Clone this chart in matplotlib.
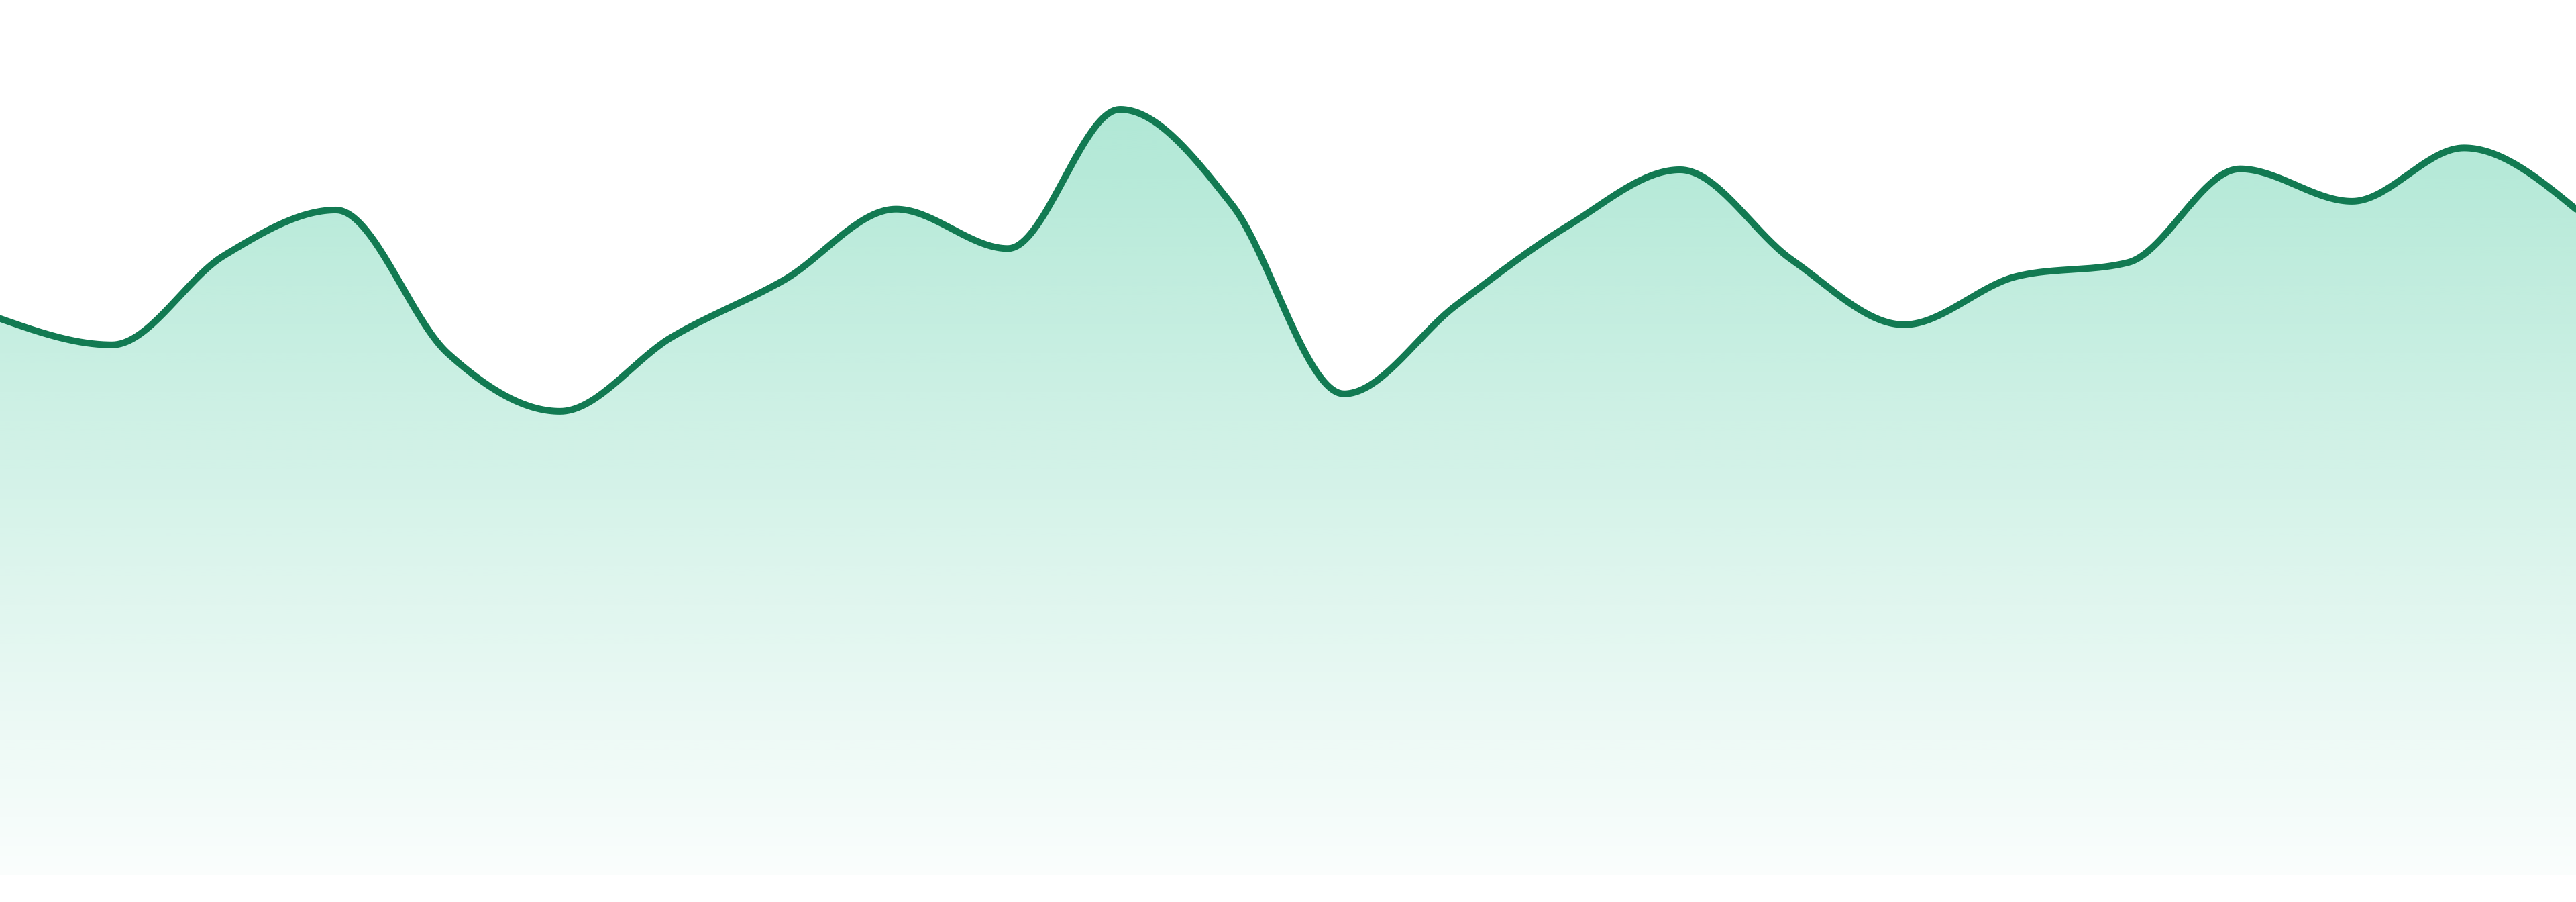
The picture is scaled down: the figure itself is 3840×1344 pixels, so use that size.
import numpy as np
import matplotlib
matplotlib.use("Agg")
import matplotlib.pyplot as plt
from matplotlib.patches import Polygon

# ---- data ----
periods = list(range(24))
values = [63.6, 60.6, 70.8, 76.0, 59.6, 53.0, 61.5, 68.0, 76.1, 71.6, 87.5, 76.6,
          55.0, 65.1, 74.2, 80.6, 70.3, 62.9, 68.4, 70.0, 80.7, 77.0, 83.1, 76.1]

line_color = "#127A52"
fill_rgb = (16 / 255, 185 / 255, 129 / 255)


def monotone_x(x, y, n=40):
    """d3.curveMonotoneX equivalent: returns dense points along the curve."""
    x = np.asarray(x, float)
    y = np.asarray(y, float)
    m = len(x)
    h = np.diff(x)
    s = np.diff(y) / h
    t = np.zeros(m)
    for i in range(1, m - 1):
        s0, s1 = s[i - 1], s[i]
        h0, h1 = h[i - 1], h[i]
        p = (s0 * h1 + s1 * h0) / (h0 + h1)
        t[i] = (np.sign(s0) + np.sign(s1)) * min(abs(s0), abs(s1), 0.5 * abs(p))
    t[0] = (3 * s[0] - t[1]) / 2
    t[-1] = (3 * s[-1] - t[-2]) / 2
    xs, ys = [], []
    u = np.linspace(0, 1, n)
    for i in range(m - 1):
        dx = h[i] / 3
        p0 = np.array([x[i], y[i]])
        p1 = np.array([x[i] + dx, y[i] + dx * t[i]])
        p2 = np.array([x[i + 1] - dx, y[i + 1] - dx * t[i + 1]])
        p3 = np.array([x[i + 1], y[i + 1]])
        uu = u if i == 0 else u[1:]
        b = ((1 - uu) ** 3)[:, None] * p0 + (3 * (1 - uu) ** 2 * uu)[:, None] * p1 \
            + (3 * (1 - uu) * uu ** 2)[:, None] * p2 + (uu ** 3)[:, None] * p3
        xs.append(b[:, 0])
        ys.append(b[:, 1])
    return np.concatenate(xs), np.concatenate(ys)


W, H = 3840, 1344
fig = plt.figure(figsize=(W / 100, H / 100), dpi=100)
fig.patch.set_facecolor("white")
ax = fig.add_axes([0, 40 / H, 1, 1 - 40 / H])
ax.set_xlim(periods[0], periods[-1])
ax.set_ylim(0, 100)
ax.axis("off")

cx, cy = monotone_x(periods, values)

# gradient fill clipped to area under curve
ymax = max(values)
ny = 600
grad_y = np.linspace(0, ymax, ny)
alpha = 0.02 + (0.33 - 0.02) * (grad_y / ymax)
img = np.zeros((ny, 2, 4))
img[..., 0] = fill_rgb[0]
img[..., 1] = fill_rgb[1]
img[..., 2] = fill_rgb[2]
img[..., 3] = alpha[:, None]
im = ax.imshow(img, extent=[periods[0], periods[-1], 0, ymax], origin="lower",
               aspect="auto", interpolation="bilinear", zorder=1)
poly_xy = np.column_stack([np.r_[cx, cx[-1], cx[0]], np.r_[cy, 0, 0]])
clip = Polygon(poly_xy, closed=True, facecolor="none", edgecolor="none",
               transform=ax.transData)
ax.add_patch(clip)
im.set_clip_path(clip)

ax.plot(cx, cy, color=line_color, lw=7.2, solid_capstyle="round",
        solid_joinstyle="round", zorder=3, clip_on=False)

fig.savefig("out.png", dpi=100, facecolor="white")
